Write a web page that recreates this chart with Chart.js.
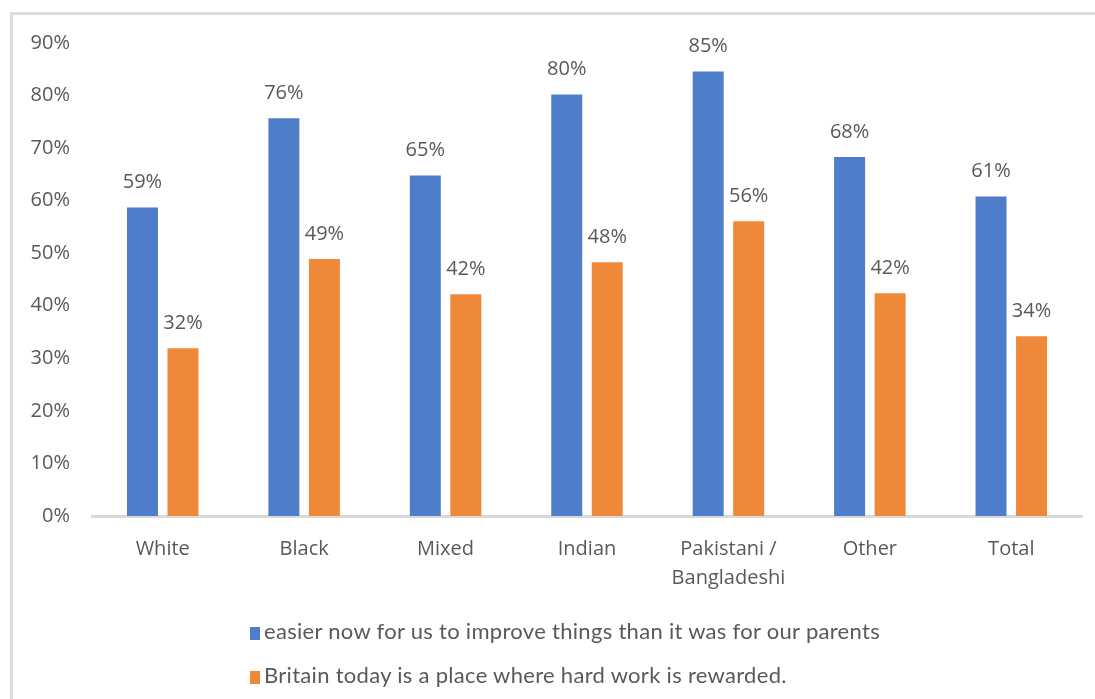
<!DOCTYPE html>
<html>
<head>
<meta charset="utf-8">
<script src="https://cdn.jsdelivr.net/npm/chart.js@4/dist/chart.umd.min.js"></script>
<style>
  html, body { margin: 0; padding: 0; background: #fff; }
  #wrap { position: relative; width: 1095px; height: 699px; overflow: hidden; background: #fff; }
  #frame { position: absolute; left: 10px; top: 12px; width: 1200px; height: 800px;
           border-left: 3px solid #dcdcdc; border-top: 3px solid #dcdcdc; }
  #chart { position: absolute; left: 0; top: 0; }
  #legend { position: absolute; left: 250px; top: 616px; font-family: Lato, "Open Sans", sans-serif;
            font-size: 22px; letter-spacing: 0.3px; color: #595959; }
  .item { height: 44px; line-height: 30px; white-space: nowrap; }
  .swatch { display: inline-block; width: 10px; height: 13px; margin-right: 4px; vertical-align: -1px; }
</style>
</head>
<body>
<div id="wrap">
  <div id="frame"></div>
  <canvas id="chart" width="1095" height="699"></canvas>
  <div id="legend"></div>
</div>
<script>
// ==================== DATA ====================
const categories = ['White', 'Black', 'Mixed', 'Indian', ['Pakistani /', 'Bangladeshi'], 'Other', 'Total'];
const easierNow = [58.7, 75.7, 64.8, 80.2, 84.6, 68.3, 60.8];
const hardWorkRewarded = [31.9, 48.9, 42.2, 48.3, 56.1, 42.4, 34.2];
const seriesNames = [
  'easier now for us to improve things than it was for our parents',
  'Britain today is a place where hard work is rewarded.',
];
const seriesColors = ['#4e7dc9', '#ef8839'];
const yTicks = [0, 10, 20, 30, 40, 50, 60, 70, 80, 90];

const TEXT = '#595959';
const FONT = '"Open Sans", "Noto Sans", sans-serif';

// draws the % value above each bar
const valueLabels = {
  id: 'valueLabels',
  afterDatasetsDraw(chart) {
    const ctx = chart.ctx;
    ctx.save();
    ctx.font = '20px ' + FONT;
    ctx.fillStyle = TEXT;
    ctx.textAlign = 'center';
    ctx.textBaseline = 'middle';
    chart.data.datasets.forEach((ds, i) => {
      chart.getDatasetMeta(i).data.forEach((bar, j) => {
        ctx.fillText(Math.round(ds.data[j]) + '%', bar.x, bar.y - 25);
      });
    });
    ctx.restore();
  },
};

const chart = new Chart(document.getElementById('chart').getContext('2d'), {
  type: 'bar',
  data: {
    labels: categories,
    datasets: [
      { label: seriesNames[0], data: easierNow, backgroundColor: seriesColors[0] },
      { label: seriesNames[1], data: hardWorkRewarded, backgroundColor: seriesColors[1] },
    ],
  },
  options: {
    responsive: false,
    animation: false,
    layout: { padding: { top: 43, right: 13, bottom: 0, left: 0 } },
    datasets: { bar: { categoryPercentage: 0.573, barPercentage: 0.765 } },
    plugins: { legend: { display: false }, tooltip: { enabled: false } },
    scales: {
      x: {
        grid: { display: false, drawTicks: false },
        border: { display: true, color: '#d9d9d9', width: 3 },
        ticks: { color: TEXT, font: { family: FONT, size: 20, lineHeight: 1.45 }, padding: 19, maxRotation: 0 },
        afterFit: (scale) => { scale.height = 183; },
      },
      y: {
        min: 0,
        max: 90,
        afterBuildTicks: (scale) => { scale.ticks = yTicks.map((v) => ({ value: v })); },
        grid: { display: false, drawTicks: false },
        border: { display: false },
        ticks: { color: TEXT, font: { family: FONT, size: 20 }, padding: 22, callback: (v) => v + '%' },
        afterFit: (scale) => { scale.width = 92; },
      },
    },
  },
  plugins: [valueLabels],
});

// legend stacked in two left-aligned rows
document.getElementById('legend').innerHTML = seriesNames
  .map((name, i) => `<div class="item"><span class="swatch" style="background:${seriesColors[i]}"></span>${name}</div>`)
  .join('');
</script>
</body>
</html>
